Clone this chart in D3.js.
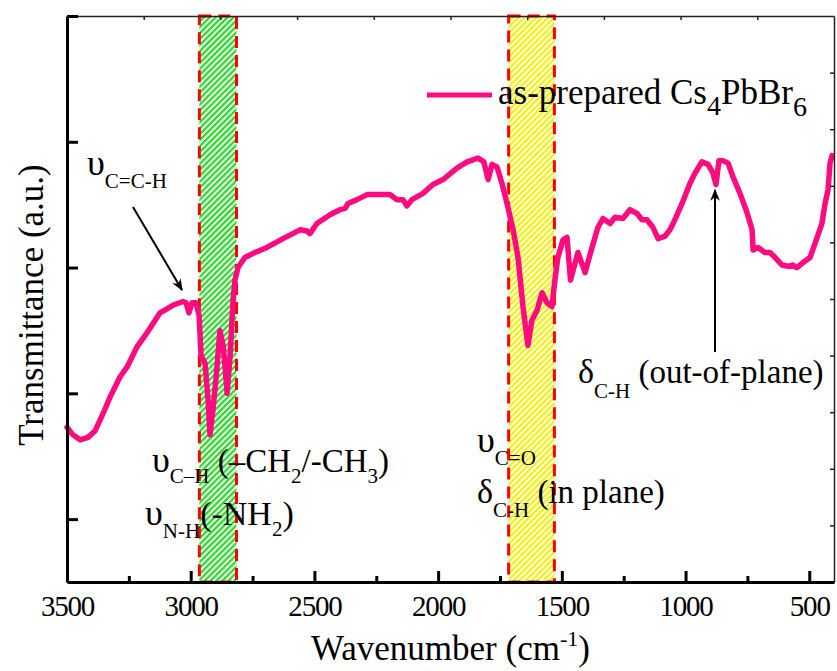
<!DOCTYPE html>
<html>
<head>
<meta charset="utf-8">
<script src="https://cdn.jsdelivr.net/npm/d3@7"></script>
<style>
  body { margin: 0; background: #fff; }
  svg text { font-family: "Times New Roman", "Liberation Serif", Tinos, "DejaVu Serif", serif; fill: #000; }
</style>
</head>
<body>
<svg id="chart" width="837" height="671"></svg>
<script>
// FTIR spectrum of as-prepared Cs4PbBr6
var wavenumber = [3500,3476,3447,3415,3387,3354,3326,3286,3257,3217,3177,3124,3072,3031,3019,3007,2995,2979,2966,2958,
  2942,2930,2922,2910,2898,2882,2869,2861,2853,2841,2829,2821,2809,2781,2740,2692,2627,2558,2530,2518,
  2490,2437,2397,2376,2364,2328,2287,2247,2195,2166,2142,2126,2106,2061,2021,1980,1924,1883,1839,1815,
  1798,1782,1762,1742,1718,1697,1677,1657,1637,1621,1600,1580,1560,1540,1528,1516,1495,1479,1465,1435,
  1406,1378,1354,1334,1305,1285,1253,1225,1196,1176,1156,1132,1111,1083,1063,1043,1014,982,962,934,
  909,889,877,865,849,828,808,780,752,731,727,707,679,659,638,610,586,566,550,525,
  497,477,449,436,424,416,408];
var transmittance = [1.73,1.67,1.63,1.65,1.70,1.84,1.97,2.13,2.21,2.37,2.48,2.64,2.70,2.73,2.72,2.64,2.72,2.72,2.62,2.30,
  2.24,1.95,1.67,1.87,2.11,2.50,2.38,2.21,2.00,2.29,2.74,2.90,3.00,3.08,3.12,3.16,3.23,3.30,3.29,3.27,
  3.35,3.42,3.46,3.47,3.51,3.54,3.58,3.58,3.58,3.54,3.54,3.49,3.54,3.59,3.66,3.70,3.79,3.84,3.87,3.84,
  3.70,3.82,3.80,3.67,3.48,3.30,3.08,2.69,2.38,2.58,2.66,2.80,2.72,2.69,2.90,3.08,3.22,3.24,2.90,3.12,
  2.96,3.16,3.32,3.39,3.35,3.40,3.39,3.46,3.43,3.38,3.38,3.32,3.23,3.25,3.30,3.38,3.51,3.67,3.75,3.84,
  3.82,3.75,3.66,3.85,3.85,3.83,3.72,3.59,3.44,3.30,3.14,3.16,3.12,3.12,3.08,3.02,3.01,3.02,3.00,3.04,
  3.08,3.19,3.35,3.51,3.62,3.83,3.89];

// highlighted regions (cm-1)
var bandFrom = [2965, 1715];
var bandTo = [2815, 1530];
var bandColor = ["#22dd22", "#f2f200"];

var xMajor = [3500, 3000, 2500, 2000, 1500, 1000, 500];
var xMinor = [3250, 2750, 2250, 1750, 1250, 750];
var yMajor = [1, 2, 3, 4, 5];

var seriesName = "as-prepared Cs";

var serif = "Times New Roman, Liberation Serif, Tinos, DejaVu Serif, serif";
var svg = d3.select("#chart");
var margin = { left: 67, right: 3, top: 16, bottom: 89 };
var W = 837 - margin.left - margin.right;
var H = 671 - margin.top - margin.bottom;
var pink = "#ff0a7f";

var x = d3.scaleLinear().domain([3500, 400]).range([0, W]);
var y = d3.scaleLinear().domain([0.5, 5]).range([H, 0]);

var defs = svg.append("defs");
bandColor.forEach(function(c, i) {
  var p = defs.append("pattern")
    .attr("id", "hatch" + i)
    .attr("patternUnits", "userSpaceOnUse")
    .attr("width", 4.2).attr("height", 4.2)
    .attr("patternTransform", "rotate(45)");
  p.append("rect").attr("width", 4.2).attr("height", 4.2).attr("fill", "#fff");
  p.append("rect").attr("width", 2.2).attr("height", 4.2).attr("fill", c);
});
defs.append("marker")
  .attr("id", "arrow")
  .attr("viewBox", "0 0 10 10")
  .attr("refX", 9).attr("refY", 5)
  .attr("markerWidth", 6).attr("markerHeight", 6)
  .attr("markerUnits", "strokeWidth")
  .attr("orient", "auto")
  .append("path").attr("d", "M0,1 L10,5 L0,9 L3,5 Z").attr("fill", "#000");

var g = svg.append("g").attr("transform", "translate(" + margin.left + "," + margin.top + ")");

// bands
g.selectAll(".band").data(bandFrom).enter().append("rect")
  .attr("class", "band")
  .attr("x", function(d) { return x(d); })
  .attr("y", 0)
  .attr("width", function(d, i) { return x(bandTo[i]) - x(d); })
  .attr("height", H)
  .attr("fill", function(d, i) { return "url(#hatch" + i + ")"; })
  .attr("stroke", "#ff0000")
  .attr("stroke-width", 3)
  .attr("stroke-dasharray", "12,7");

// spectrum
var pts = wavenumber.map(function(w, i) { return [w, transmittance[i]]; });
var line = d3.line().x(function(d) { return x(d[0]); }).y(function(d) { return y(d[1]); });
g.append("path")
  .datum(pts)
  .attr("d", line)
  .attr("fill", "none")
  .attr("stroke", pink)
  .attr("stroke-width", 5.5)
  .attr("stroke-linejoin", "round")
  .attr("stroke-linecap", "round");

// axes
var topTicks = d3.range(1, 10).map(function(i) { return 3500 - i * 310; });
var rightTicks = d3.range(1, 10).map(function(i) { return 0.5 + i * 0.45; });

g.append("g").call(d3.axisTop(x).tickValues(topTicks).tickSizeInner(-4).tickSizeOuter(0).tickFormat(""))
  .call(function(a) { a.selectAll("path,line").attr("stroke", "#222").attr("stroke-width", 1.5); });
g.append("g").attr("transform", "translate(" + W + ",0)")
  .call(d3.axisRight(y).tickValues(rightTicks).tickSizeInner(-4).tickSizeOuter(0).tickFormat(""))
  .call(function(a) { a.selectAll("path,line").attr("stroke", "#222").attr("stroke-width", 1.5); });

var bottom = g.append("g").attr("transform", "translate(0," + H + ")")
  .call(d3.axisBottom(x).tickValues(xMajor).tickSizeInner(-11).tickSizeOuter(0).tickPadding(13).tickFormat(d3.format("d")));
bottom.attr("font-family", serif);
bottom.selectAll("path,line").attr("stroke", "#000").attr("stroke-width", 3);
bottom.selectAll("text").attr("font-size", 29).attr("letter-spacing", -1.2);
g.append("g").attr("transform", "translate(0," + H + ")")
  .call(d3.axisBottom(x).tickValues(xMinor).tickSizeInner(-6).tickSizeOuter(0).tickFormat(""))
  .call(function(a) { a.select(".domain").remove(); a.selectAll("line").attr("stroke", "#000").attr("stroke-width", 3); });

var left = g.append("g")
  .call(d3.axisLeft(y).tickValues(yMajor).tickSizeInner(-11).tickSizeOuter(0).tickFormat(""));
left.selectAll("path,line").attr("stroke", "#000").attr("stroke-width", 3);

// axis titles
var xt = svg.append("text")
  .attr("x", margin.left + W / 2).attr("y", 660)
  .attr("text-anchor", "middle").attr("font-size", 35);
xt.append("tspan").text("Wavenumber (cm");
xt.append("tspan").attr("dy", -14).attr("font-size", 22).text("-1");
xt.append("tspan").attr("dy", 14).text(")");

svg.append("text")
  .attr("transform", "translate(43," + (305) + ") rotate(-90)")
  .attr("text-anchor", "middle").attr("font-size", 35)
  .text("Transmittance (a.u.)");

// legend
svg.append("line")
  .attr("x1", 427).attr("x2", 492).attr("y1", 95).attr("y2", 95)
  .attr("stroke", pink).attr("stroke-width", 5);
var lg = svg.append("text").attr("x", 498).attr("y", 104).attr("font-size", 35);
lg.append("tspan").text(seriesName);
lg.append("tspan").attr("dy", 11).attr("font-size", 28).text("4");
lg.append("tspan").attr("dy", -11).text("PbBr");
lg.append("tspan").attr("dy", 12).attr("font-size", 28).text("6");

// rich label: parts = [text, baselineOffset, fontSize]
function rich(px, py, parts) {
  var t = svg.append("text").attr("x", px).attr("y", py).attr("font-size", 34);
  var shift = 0;
  parts.forEach(function(p) {
    var off = p[1] || 0;
    t.append("tspan")
      .attr("dy", off - shift)
      .attr("font-size", p[2] || 34)
      .text(p[0]);
    shift = off;
  });
}

rich(87, 175, [["\u03c5", 0, 36], ["C=C-H", 13, 21]]);
rich(152, 472, [["\u03c5", 0, 36], ["C\u2013H", 11, 21], [" (\u2013CH", 0, 33], ["2", 11, 21], ["/-CH", 0, 33], ["3", 11, 21], [")", 0, 33]]);
rich(145, 525, [["\u03c5", 0, 36], ["N-H", 13, 21], ["(-NH", 0, 34], ["2", 11, 21], [")", 0, 34]]);
rich(477, 452, [["\u03c5", 0, 36], ["C=O", 13, 21]]);
rich(477, 503, [["\u03b4", 0, 34], ["C-H", 14, 21], [" (in plane)", 0, 33]]);
rich(578, 383, [["\u03b4", 0, 34], ["C-H", 15, 21], [" (out-of-plane)", 0, 33]]);

// arrows
svg.append("line").attr("x1", 133).attr("y1", 207).attr("x2", 182).attr("y2", 290)
  .attr("stroke", "#000").attr("stroke-width", 2).attr("marker-end", "url(#arrow)");
svg.append("line").attr("x1", 715).attr("y1", 352).attr("x2", 715).attr("y2", 190)
  .attr("stroke", "#000").attr("stroke-width", 2).attr("marker-end", "url(#arrow)");
</script>
</body>
</html>
